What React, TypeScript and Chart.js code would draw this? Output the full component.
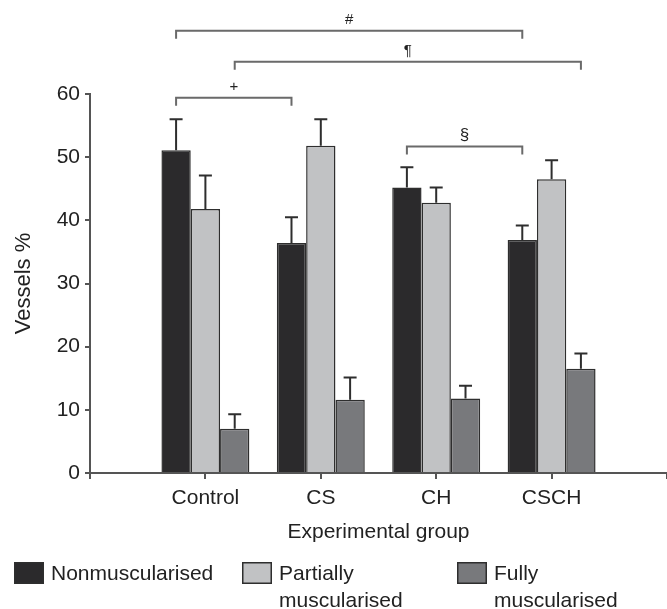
import React, { useEffect, useRef } from 'react';
import { Chart, registerables } from 'chart.js';

Chart.register(...registerables);

const groups = ['Control', 'CS', 'CH', 'CSCH'];
const seriesNames = ['Nonmuscularised', 'Partially muscularised', 'Fully muscularised'];
const legendLines = [['Nonmuscularised'], ['Partially', 'muscularised'], ['Fully', 'muscularised']];
const nonMusc = [51.1, 36.4, 45.2, 36.9];
const nonMuscErr = [4.9, 4.1, 3.2, 2.3];
const partMusc = [41.8, 51.8, 42.8, 46.5];
const partMuscErr = [5.3, 4.2, 2.4, 3.0];
const fullMusc = [7.0, 11.6, 11.8, 16.5];
const fullMuscErr = [2.3, 3.5, 2.0, 2.4];
const yMin = 0;
const yMax = 60;
const yStep = 10;
const bracketSymbols = ['#', '¶', '+', '§'];
const bracketStart = [[0, 0], [0, 2], [0, 0], [2, 0]]; // [group, series]
const bracketEnd = [[3, 0], [3, 2], [1, 0], [3, 0]];
const bracketLevel = [70.0, 65.1, 59.4, 51.7];

const colors = ['#2b2a2c', '#c1c2c4', '#78797c'];
const FONT = "'Liberation Sans', Arial, Helvetica, sans-serif";

const pad = (arr: (number | null)[]) => [null, ...arr, null];

export default function App() {
  const ref = useRef<HTMLCanvasElement | null>(null);

  useEffect(() => {
    if (!ref.current) return;
    const values = [nonMusc, partMusc, fullMusc];
    const errors = [nonMuscErr, partMuscErr, fullMuscErr];

    const overlay = {
      id: 'overlay',
      afterDatasetsDraw(chart: any) {
        const ctx = chart.ctx;
        const y = chart.scales.y;
        ctx.save();
        // error bars
        ctx.strokeStyle = '#2e2e2e';
        ctx.lineWidth = 2;
        values.forEach((vals, di) => {
          const meta = chart.getDatasetMeta(di);
          vals.forEach((v, gi) => {
            const el = meta.data[gi + 1];
            if (!el) return;
            const x = el.x;
            const yTop = y.getPixelForValue(v);
            const yErr = y.getPixelForValue(v + errors[di][gi]);
            ctx.beginPath();
            ctx.moveTo(x, yTop);
            ctx.lineTo(x, yErr);
            ctx.moveTo(x - 6.5, yErr);
            ctx.lineTo(x + 6.5, yErr);
            ctx.stroke();
          });
        });
        // significance brackets
        ctx.strokeStyle = '#6a6a6a';
        ctx.lineWidth = 2;
        ctx.fillStyle = '#222';
        ctx.textAlign = 'center';
        ctx.textBaseline = 'bottom';
        bracketSymbols.forEach((sym, bi) => {
          const [g0, s0] = bracketStart[bi];
          const [g1, s1] = bracketEnd[bi];
          const x0 = chart.getDatasetMeta(s0).data[g0 + 1].x;
          const x1 = chart.getDatasetMeta(s1).data[g1 + 1].x;
          const yy = y.getPixelForValue(bracketLevel[bi]);
          ctx.beginPath();
          ctx.moveTo(x0, yy + 8);
          ctx.lineTo(x0, yy);
          ctx.lineTo(x1, yy);
          ctx.lineTo(x1, yy + 8);
          ctx.stroke();
          ctx.font = `${sym === '§' ? 17 : 15}px ${FONT}`;
          ctx.fillText(sym, (x0 + x1) / 2, yy - 3);
        });
        ctx.restore();
      },
      afterDraw(chart: any) {
        const ctx = chart.ctx;
        ctx.save();
        const xs = [14, 242, 457];
        ctx.font = `21px ${FONT}`;
        ctx.textAlign = 'left';
        ctx.textBaseline = 'middle';
        xs.forEach((x, i) => {
          ctx.fillStyle = colors[i];
          ctx.fillRect(x, 562, 30, 22);
          ctx.strokeStyle = '#2e2e2e';
          ctx.lineWidth = 1.5;
          ctx.strokeRect(x + 0.75, 562.75, 28.5, 20.5);
          ctx.fillStyle = '#222';
          legendLines[i].forEach((t, li) => {
            ctx.fillText(t, x + 37, 574 + li * 27);
          });
        });
        ctx.restore();
      },
    };

    const chart = new Chart(ref.current, {
      type: 'bar',
      data: {
        labels: ['', ...groups, ''],
        datasets: values.map((vals, i) => ({
          label: seriesNames[i],
          data: pad(vals),
          backgroundColor: colors[i],
          borderColor: '#2e2e2e',
          borderWidth: 1.5,
          categoryPercentage: 0.762,
          barPercentage: 1.0,
        })),
      },
      options: {
        responsive: false,
        animation: false,
        layout: { padding: { top: 94, bottom: 64, left: 0, right: 0 } },
        plugins: {
          legend: { display: false },
          tooltip: { enabled: false },
        },
        scales: {
          x: {
            type: 'category',
            offset: false,
            afterFit: (s: any) => {
              s.height = 72;
              s.paddingLeft = 0;
              s.paddingRight = 0;
            },
            grid: {
              display: true,
              offset: false,
              drawOnChartArea: false,
              drawTicks: true,
              tickLength: 6,
              color: '#555',
              lineWidth: 2,
            },
            border: { display: true, color: '#555', width: 2 },
            ticks: {
              color: '#222',
              font: { family: FONT, size: 21 },
              padding: 7,
              maxRotation: 0,
              autoSkip: false,
            },
            title: {
              display: true,
              text: 'Experimental group',
              color: '#222',
              font: { family: FONT, size: 21 },
              padding: { top: 0, bottom: 0 },
            },
          },
          y: {
            min: yMin,
            max: yMax,
            afterFit: (s: any) => {
              s.width = 90;
            },
            grid: {
              display: true,
              drawOnChartArea: false,
              drawTicks: true,
              tickLength: 5,
              color: '#555',
              lineWidth: 2,
            },
            border: { display: true, color: '#555', width: 2 },
            ticks: {
              stepSize: yStep,
              color: '#222',
              font: { family: FONT, size: 21 },
              padding: 5,
            },
            title: {
              display: true,
              text: 'Vessels %',
              color: '#222',
              font: { family: FONT, size: 22 },
              padding: { top: 11, bottom: 0 },
            },
          },
        },
      },
      plugins: [overlay],
    } as any);
    return () => chart.destroy();
  }, []);

  return (
    <div style={{ position: 'fixed', left: 0, top: 0, width: 667, height: 609, background: '#fff' }}>
      <canvas ref={ref} width={667} height={609} style={{ display: 'block' }} />
    </div>
  );
}
